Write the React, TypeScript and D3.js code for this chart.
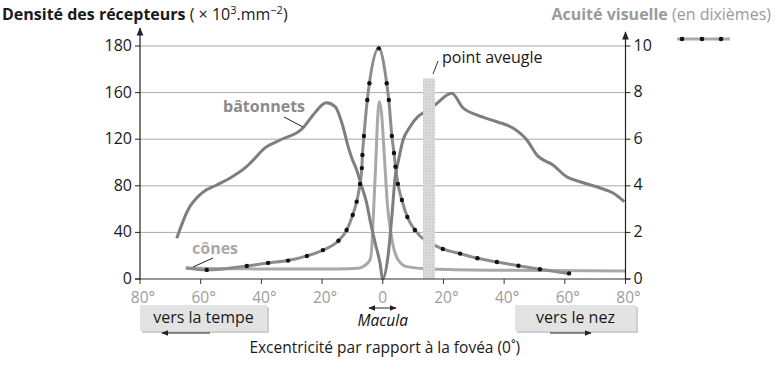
import * as d3 from "d3";
import React from "react";

// excentricité en degrés (négatif = côté tempe, positif = côté nez)
const rodsDeg = [-67.9, -64.2, -59.7, -54.7, -50.3, -45.4, -43.2, -38.8, -33.8, -26.3, -23.4, -18.5, -15.7, -13.1, -11.4, -10.2, -8.6, -6.9, -5.3, -4.2, -2.5, -0.9, 0, 1.7, 3.0, 4.1, 5.0, 6.7, 9.0, 11.6, 13.3, 17.2, 22.7, 26.5, 31.0, 37.6, 42.9, 47.5, 50.8, 56.1, 60.6, 65.0, 71.6, 75.9, 79.6];
const rodsVal = [34.9, 59.2, 73.6, 80.7, 86.7, 95.3, 100.7, 112.5, 119.3, 129.6, 139.3, 151.3, 147.9, 130.7, 113.6, 103.9, 93.6, 79.2, 65.2, 50.6, 30.9, 13.7, 0, 18.9, 53.5, 87.8, 99.6, 119.3, 130.7, 139.3, 142.5, 149.4, 159.4, 146.8, 140.8, 135.0, 129.6, 119.3, 106.4, 97.9, 87.8, 83.5, 78.1, 73.8, 66.4];

const conesDeg = [-65, -50, -30, -15, -8, -6.5, -4.2, -3.6, -3.1, -2.3, -1.65, -1.1, -0.3, 0.2, 0.8, 1.5, 2.4, 3.5, 5.1, 7.9, 15.6, 40, 80];
const conesVal = [9.5, 8.8, 8.6, 8.6, 9.2, 10.6, 16.3, 27.7, 53.5, 99.6, 139.3, 152.2, 139.3, 119.3, 93.6, 65.2, 44.9, 27.7, 16.3, 10.6, 8.6, 7.5, 6.9];

// acuité visuelle en dixièmes
const acuityDeg = [-64.8, -58.0, -44.8, -37.8, -31.2, -25.0, -19.7, -14.6, -11.9, -9.9, -8.6, -7.5, -6.9, -6.7, -6.2, -5.1, -4.4, -1.3, 1.3, 2.0, 3.0, 3.7, 4.2, 5.0, 6.3, 8.1, 10.6, 19.8, 25.5, 31.2, 37.6, 44.7, 51.8, 61.4];
const acuityVal = [0.47, 0.39, 0.56, 0.69, 0.79, 0.99, 1.24, 1.64, 2.1, 2.75, 3.32, 4.08, 4.76, 5.32, 6.14, 7.68, 8.4, 9.9, 8.4, 7.68, 6.14, 5.41, 4.82, 4.08, 3.39, 2.66, 2.1, 1.29, 1.09, 0.89, 0.73, 0.57, 0.42, 0.24];

const blindSpot = [13.3, 17.2];
const blindSpotTop = 172;

const xTicks = [-80, -60, -40, -20, 0, 20, 40, 60, 80];
const xTickLabels = ["80°", "60°", "40°", "20°", "0", "20°", "40°", "60°", "80°"];
const densityTicks = [0, 40, 80, 120, 160, 200];
const densityTickLabels = ["0", "40", "80", "120", "160", "180"];
const acuityTicks = [0, 2, 4, 6, 8, 10];

const font = "'Open Sans', 'Noto Sans', sans-serif";

export default function App() {
  const x = d3.scaleLinear().domain([-80, 80]).range([140, 625.5]);
  const yL = d3.scaleLinear().domain([0, 200]).range([279, 46]);
  const yR = d3.scaleLinear().domain([0, 10]).range([279, 46]);

  const lineL = d3
    .line<[number, number]>()
    .x((d) => x(d[0]))
    .y((d) => yL(d[1]))
    .curve(d3.curveMonotoneX);
  const lineR = d3
    .line<[number, number]>()
    .x((d) => x(d[0]))
    .y((d) => yR(d[1]))
    .curve(d3.curveMonotoneX);

  const rods = rodsDeg.map((d, i) => [d, rodsVal[i]] as [number, number]);
  const cones = conesDeg.map((d, i) => [d, conesVal[i]] as [number, number]);
  const acuity = acuityDeg.map((d, i) => [d, acuityVal[i]] as [number, number]);

  const x0 = x.range()[0];
  const x1 = x.range()[1];
  const yb = yL(0);

  const spot = (
    <rect
      x={x(blindSpot[0])}
      y={yL(blindSpotTop)}
      width={x(blindSpot[1]) - x(blindSpot[0])}
      height={yb - yL(blindSpotTop)}
      fill="url(#dots)"
    />
  );

  return (
    <svg width={775} height={366} style={{ position: "absolute", left: 0, top: 0, background: "#fff" }} fontFamily={font}>
      <defs>
        <marker id="arr" viewBox="0 0 10 10" refX="9" refY="5" markerWidth="7" markerHeight="7" orient="auto-start-reverse">
          <path d="M0,1 L10,5 L0,9 z" fill="#222" />
        </marker>
        <pattern id="dots" width="3" height="3" patternUnits="userSpaceOnUse">
          <rect width="3" height="3" fill="#d9d9d9" />
          <rect width="1" height="1" fill="#c4c4c4" />
        </pattern>
      </defs>

      {/* titres */}
      <text x={2} y={20} fontSize={16} fill="#1a1a1a">
        <tspan fontWeight="bold">Densité des récepteurs</tspan>
        <tspan> ( × 10</tspan>
        <tspan fontSize={11} dy={-6}>3</tspan>
        <tspan dy={6}>.mm</tspan>
        <tspan fontSize={11} dy={-6}>−2</tspan>
        <tspan dy={6}>)</tspan>
      </text>
      <text x={771} y={20} fontSize={16} fill="#9a9a9a" textAnchor="end">
        <tspan fontWeight="bold">Acuité visuelle</tspan>
        <tspan> (en dixièmes)</tspan>
      </text>
      {/* légende acuité */}
      <line x1={677} x2={730} y1={39} y2={39} stroke="#aaa" strokeWidth={3} />
      {[682, 702, 721].map((cx) => (
        <circle key={cx} cx={cx} cy={39} r={2.3} fill="#111" />
      ))}

      {/* grille */}
      {densityTicks.slice(1).map((t) => (
        <line key={t} x1={x0} x2={x1} y1={yL(t)} y2={yL(t)} stroke="#a8a8a8" strokeWidth={1} />
      ))}

      {spot}

      {/* courbes */}
      <path d={lineL(cones) ?? ""} fill="none" stroke="#a9a9a9" strokeWidth={3} strokeLinejoin="round" />
      <path d={lineR(acuity) ?? ""} fill="none" stroke="#8c8c8c" strokeWidth={3} strokeLinejoin="round" />
      <path d={lineL(rods) ?? ""} fill="none" stroke="#7e7e7e" strokeWidth={3} strokeLinejoin="round" />
      {/* le point aveugle masque les bâtonnets */}
      {spot}
      {acuity.slice(1).map((d, i) => (
        <circle key={i} cx={x(d[0])} cy={yR(d[1])} r={2.2} fill="#111" />
      ))}

      {/* axes */}
      <line x1={x0} x2={x0} y1={yb + 1} y2={28} stroke="#222" strokeWidth={1.2} markerEnd="url(#arr)" />
      <line x1={x1} x2={x1} y1={yb + 1} y2={32} stroke="#222" strokeWidth={1.2} markerEnd="url(#arr)" />
      <line x1={x0 - 5} x2={x1 + 5} y1={yb} y2={yb} stroke="#333" strokeWidth={1.2} />
      {densityTicks.map((t, i) => (
        <g key={t}>
          <line x1={x0 - 5} x2={x0} y1={yL(t)} y2={yL(t)} stroke="#222" />
          <text x={x0 - 8} y={yL(t) + 5} fontSize={16} textAnchor="end" fill="#1a1a1a">
            {densityTickLabels[i]}
          </text>
        </g>
      ))}
      {acuityTicks.map((t) => (
        <g key={t}>
          <line x1={x1} x2={x1 + 5} y1={yR(t)} y2={yR(t)} stroke="#222" />
          <text x={x1 + 8} y={yR(t) + 4.5} fontSize={16} fill="#1a1a1a">
            {t}
          </text>
        </g>
      ))}
      {xTicks.map((t, i) => (
        <g key={t}>
          <line x1={x(t)} x2={x(t)} y1={yb} y2={yb + 5} stroke="#333" />
          <text x={x(t) + (t === 0 ? 0 : 3)} y={yb + 24} fontSize={15.5} textAnchor="middle" fill="#9d9d9d">
            {xTickLabels[i]}
          </text>
        </g>
      ))}

      {/* étiquettes */}
      <text x={223} y={112} fontSize={16} fontWeight="bold" fill="#8a8a8a">bâtonnets</text>
      <line x1={284} y1={117} x2={303} y2={127} stroke="#222" />
      <text x={192} y={254} fontSize={16} fontWeight="bold" fill="#a9a9a9">cônes</text>
      <line x1={193} y1={267} x2={213} y2={258} stroke="#222" />
      <text x={442} y={63} fontSize={16} fill="#1a1a1a">point aveugle</text>
      <line x1={438} y1={61} x2={433} y2={74} stroke="#333" />

      {/* macula */}
      <line x1={369} x2={396} y1={308} y2={308} stroke="#222" markerStart="url(#arr)" markerEnd="url(#arr)" />
      <text x={x(0)} y={326} fontSize={15.5} fontStyle="italic" textAnchor="middle" fill="#111">Macula</text>

      {/* boîtes d'orientation */}
      <rect x={142} y={307} width={127} height={26} fill="#cfcfcf" />
      <rect x={140} y={305} width={127} height={26} fill="#e3e3e3" />
      <text x={203.5} y={323} fontSize={16} textAnchor="middle" fill="#1a1a1a">vers la tempe</text>
      <line x1={210} x2={162} y1={333} y2={333} stroke="#222" markerEnd="url(#arr)" />

      <rect x={517} y={307} width={121} height={26} fill="#cfcfcf" />
      <rect x={515} y={305} width={121} height={26} fill="#e3e3e3" />
      <text x={575.5} y={323} fontSize={16} textAnchor="middle" fill="#1a1a1a">vers le nez</text>
      <line x1={550} x2={591} y1={333} y2={333} stroke="#222" markerEnd="url(#arr)" />

      <text x={x(0) + 2} y={353} fontSize={15.5} textAnchor="middle" fill="#1a1a1a">
        Excentricité par rapport à la fovéa (0˚)
      </text>
    </svg>
  );
}
